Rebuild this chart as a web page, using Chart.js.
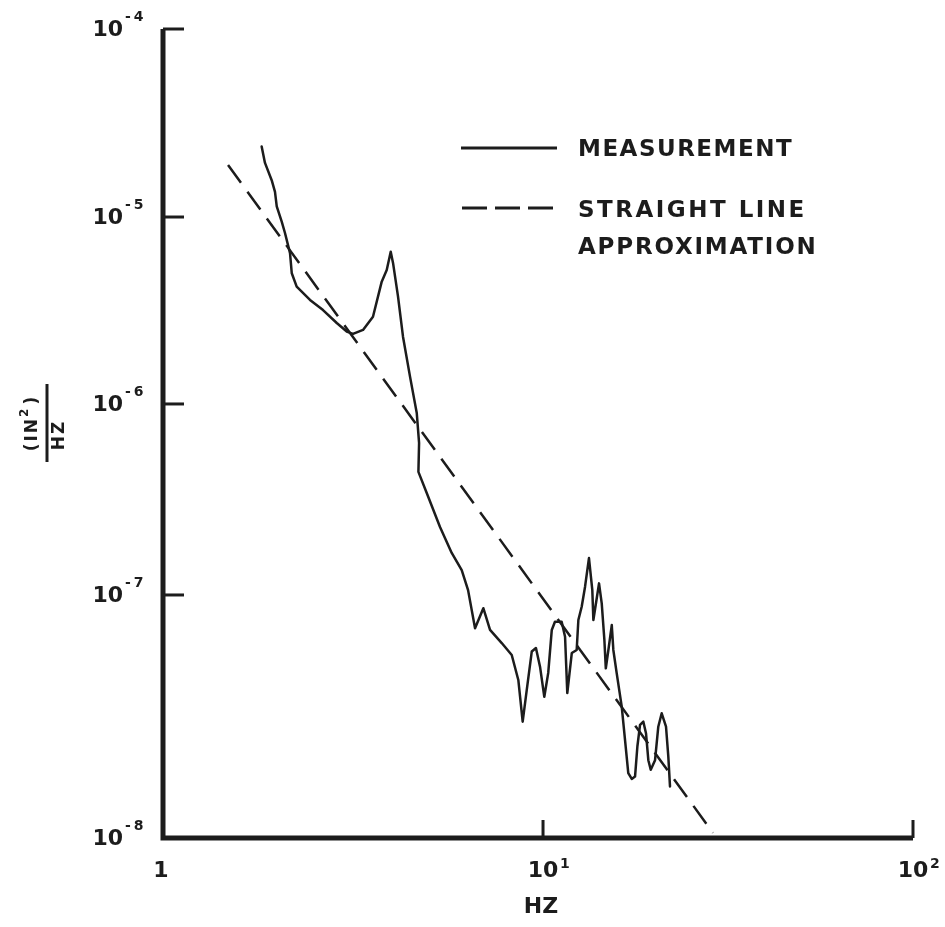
<!DOCTYPE html>
<html>
<head>
<meta charset="utf-8">
<script src="https://cdn.jsdelivr.net/npm/chart.js@4/dist/chart.umd.min.js"></script>
<style>
  html, body { margin: 0; padding: 0; background: #ffffff; }
  canvas { display: block; }
</style>
</head>
<body>
<canvas id="c" width="945" height="927"></canvas>
<script>
// ---------------- data ----------------
const measFreqHz = [
  1.818, 1.855, 1.932, 1.971, 1.992, 2.053, 2.094, 2.159, 2.182, 2.248,
  2.437, 2.637, 2.866, 3.044, 3.162, 3.36, 3.569, 3.763, 3.879, 3.974,
  4.03, 4.154, 4.281, 4.467, 4.653, 4.719, 4.70, 4.943, 5.357, 5.751,
  6.11, 6.35, 6.624, 6.965, 7.254, 7.787, 8.273, 8.61, 8.84, 9.06,
  9.34, 9.58, 9.82, 10.08, 10.33, 10.56, 10.77, 11.23, 11.47, 11.63,
  11.96, 12.33, 12.46, 12.72, 12.99, 13.31, 13.59, 13.68, 13.97, 14.17,
  14.41, 14.65, 14.78, 15.02, 15.34, 15.49, 15.82, 16.32, 16.66, 17.0,
  17.37, 17.73, 17.99, 18.29, 18.67, 18.98, 19.26, 19.55, 20.08, 20.49,
  20.93, 21.5, 21.81, 22.04
];
const measPsd = [
  2.37e-5, 1.94e-5, 1.57e-5, 1.36e-5, 1.14e-5, 9.44e-6, 8.21e-6, 6.41e-6, 5.0e-6, 4.24e-6,
  3.6e-6, 3.18e-6, 2.71e-6, 2.44e-6, 2.37e-6, 2.49e-6, 2.93e-6, 4.51e-6, 5.21e-6, 6.52e-6,
  5.68e-6, 3.75e-6, 2.29e-6, 1.4e-6, 8.97e-7, 6.25e-7, 4.41e-7, 3.42e-7, 2.27e-7, 1.66e-7,
  1.35e-7, 1.06e-7, 7.29e-8, 8.82e-8, 7.18e-8, 6.34e-8, 5.66e-8, 4.47e-8, 3.01e-8, 4.06e-8,
  5.85e-8, 6.05e-8, 5.07e-8, 3.81e-8, 4.78e-8, 7.18e-8, 7.76e-8, 7.76e-8, 6.73e-8, 3.95e-8,
  5.77e-8, 5.94e-8, 7.89e-8, 8.95e-8, 1.105e-7, 1.56e-7, 1.06e-7, 7.89e-8, 9.69e-8, 1.15e-7,
  9.24e-8, 6.53e-8, 4.99e-8, 5.94e-8, 7.52e-8, 5.94e-8, 4.76e-8, 3.47e-8, 2.53e-8, 1.85e-8,
  1.75e-8, 1.79e-8, 2.38e-8, 2.92e-8, 3.01e-8, 2.7e-8, 2.09e-8, 1.91e-8, 2.09e-8, 2.87e-8,
  3.26e-8, 2.87e-8, 2.16e-8, 1.63e-8
];
const approxFreqHz = [1.483, 28.8];
const approxPsd = [1.89e-5, 1.05e-8];

const xTickValues = [1, 10, 100];
const xTickBases = ['1', '10', '10'];
const xTickExponents = ['', '1', '2'];
const yTickValues = [1e-8, 1e-7, 1e-6, 1e-5, 1e-4];
const yTickBases = ['10', '10', '10', '10', '10'];
const yTickExponents = ['-8', '-7', '-6', '-5', '-4'];

const seriesLabels = ['MEASUREMENT', 'STRAIGHT LINE', 'APPROXIMATION'];
const xAxisTitle = 'HZ';
const yAxisTitleNum = '(IN';
const yAxisTitleSup = '2';
const yAxisTitleClose = ')';
const yAxisTitleDen = 'HZ';

// ---------------- scale geometry (hand-drawn decade spacing of the original) ----------------
const xDecadeExps = [0, 1, 2];
const xDecadeFracs = [0, 0.5067, 1];
const yDecadeExps = [-8, -7, -6, -5, -4];
const yDecadeFracs = [0, 0.3004, 0.5365, 0.7676, 1];

function interp(v, xs, ys) {
  let i = 0;
  if (v <= xs[0]) i = 0;
  else if (v >= xs[xs.length - 1]) i = xs.length - 2;
  else { while (i < xs.length - 2 && v > xs[i + 1]) i++; }
  const t = (v - xs[i]) / (xs[i + 1] - xs[i]);
  return ys[i] + t * (ys[i + 1] - ys[i]);
}

function makePiecewiseLog(id, exps, fracs) {
  class S extends Chart.LogarithmicScale {
    getPixelForValue(value) {
      if (value === undefined || value === null || !(value > 0)) return NaN;
      return this.getPixelForDecimal(interp(Math.log10(value), exps, fracs));
    }
    getValueForPixel(pixel) {
      return Math.pow(10, interp(this.getDecimalForPixel(pixel), fracs, exps));
    }
  }
  S.id = id;
  S.defaults = Chart.LogarithmicScale.defaults;
  return S;
}
Chart.register(makePiecewiseLog('plogx', xDecadeExps, xDecadeFracs));
Chart.register(makePiecewiseLog('plogy', yDecadeExps, yDecadeFracs));

const INK = '#1c1c1c';

const decorPlugin = {
  id: 'decor',
  beforeDraw(chart) {
    const ctx = chart.ctx;
    ctx.save();
    ctx.fillStyle = '#ffffff';
    ctx.fillRect(0, 0, chart.width, chart.height);
    ctx.restore();
  },
  afterDraw(chart) {
    const ctx = chart.ctx;
    const xs = chart.scales.x, ys = chart.scales.y;
    const left = xs.getPixelForValue(xTickValues[0]);
    const right = xs.getPixelForValue(xTickValues[xTickValues.length - 1]);
    const bottom = ys.getPixelForValue(yTickValues[0]);
    const top = ys.getPixelForValue(yTickValues[yTickValues.length - 1]);
    ctx.save();
    ctx.strokeStyle = INK;
    ctx.fillStyle = INK;
    // axes
    ctx.lineWidth = 5;
    ctx.lineJoin = 'miter';
    ctx.beginPath();
    ctx.moveTo(left, top);
    ctx.lineTo(left, bottom);
    ctx.lineTo(right, bottom);
    ctx.stroke();
    // y ticks (inward)
    ctx.lineWidth = 3;
    yTickValues.forEach(v => {
      if (v === yTickValues[0]) return;
      const y = ys.getPixelForValue(v);
      ctx.beginPath(); ctx.moveTo(left, y); ctx.lineTo(left + 21, y); ctx.stroke();
    });
    // x ticks (inward)
    xTickValues.forEach(v => {
      if (v === xTickValues[0]) return;
      const x = xs.getPixelForValue(v);
      ctx.beginPath(); ctx.moveTo(x, bottom); ctx.lineTo(x, bottom - 18); ctx.stroke();
    });
    // y tick labels
    ctx.textBaseline = 'middle';
    yTickValues.forEach((v, i) => {
      const y = ys.getPixelForValue(v);
      ctx.font = 'bold 22px "DejaVu Sans"';
      ctx.textAlign = 'right';
      ctx.fillText(yTickBases[i], left - 40, y + 1);
      ctx.font = 'bold 14px "DejaVu Sans"';
      ctx.textAlign = 'left';
      ctx.letterSpacing = '3px';
      ctx.fillText(yTickExponents[i], left - 38, y - 12);
      ctx.letterSpacing = '0px';
    });
    // x tick labels
    xTickValues.forEach((v, i) => {
      const x = xs.getPixelForValue(v);
      ctx.font = 'bold 22px "DejaVu Sans"';
      ctx.textAlign = 'center';
      ctx.fillText(xTickBases[i], x + (i === 0 ? -2 : 0), bottom + 33);
      if (xTickExponents[i]) {
        ctx.font = 'bold 14px "DejaVu Sans"';
        ctx.textAlign = 'left';
        ctx.fillText(xTickExponents[i], x + 17, bottom + 26);
      }
    });
    // x axis title
    ctx.font = 'bold 22px "DejaVu Sans"';
    ctx.textAlign = 'center';
    ctx.fillText(xAxisTitle, (left + xs.getPixelForValue(10)) / 2 + 188, bottom + 69);

    // y axis title as a fraction, rotated
    ctx.save();
    ctx.translate(47, 423);
    ctx.rotate(-Math.PI / 2);
    ctx.lineWidth = 3;
    ctx.beginPath(); ctx.moveTo(-39, 0); ctx.lineTo(39, 0); ctx.stroke();
    ctx.font = 'bold 17px "DejaVu Sans"';
    ctx.textBaseline = 'alphabetic';
    ctx.textAlign = 'left';
    ctx.letterSpacing = '2px';
    const wNum = ctx.measureText(yAxisTitleNum).width;
    ctx.font = 'bold 12px "DejaVu Sans"';
    const wSup = ctx.measureText(yAxisTitleSup).width;
    ctx.font = 'bold 17px "DejaVu Sans"';
    const wClose = ctx.measureText(yAxisTitleClose).width;
    let sx = -(wNum + wSup + wClose + 2) / 2;
    ctx.fillText(yAxisTitleNum, sx, -10);
    ctx.font = 'bold 12px "DejaVu Sans"';
    ctx.fillText(yAxisTitleSup, sx + wNum, -19);
    ctx.font = 'bold 17px "DejaVu Sans"';
    ctx.fillText(yAxisTitleClose, sx + wNum + wSup + 2, -10);
    ctx.textAlign = 'center';
    ctx.fillText(yAxisTitleDen, -12, 17);
    ctx.letterSpacing = '0px';
    ctx.restore();

    // legend
    ctx.lineWidth = 3;
    ctx.setLineDash([]);
    ctx.beginPath(); ctx.moveTo(461, 148); ctx.lineTo(557, 148); ctx.stroke();
    ctx.setLineDash([25, 8]);
    ctx.beginPath(); ctx.moveTo(462, 208); ctx.lineTo(557, 208); ctx.stroke();
    ctx.setLineDash([]);
    ctx.font = 'bold 23px "DejaVu Sans"';
    ctx.textAlign = 'left';
    ctx.textBaseline = 'middle';
    ctx.letterSpacing = '1.5px';
    ctx.fillText(seriesLabels[0], 578, 150);
    ctx.letterSpacing = '2.5px';
    ctx.fillText(seriesLabels[1], 578, 211);
    ctx.letterSpacing = '1.8px';
    ctx.fillText(seriesLabels[2], 578, 248);
    ctx.letterSpacing = '0px';
    ctx.restore();
  }
};

const measData = measFreqHz.map((f, i) => ({ x: f, y: measPsd[i] }));
const approxData = approxFreqHz.map((f, i) => ({ x: f, y: approxPsd[i] }));

new Chart(document.getElementById('c'), {
  type: 'line',
  data: {
    datasets: [
      {
        label: seriesLabels[0],
        data: measData,
        borderColor: INK,
        borderWidth: 2.5,
        pointRadius: 0,
        tension: 0,
        fill: false,
        borderJoinStyle: 'round',
        borderCapStyle: 'round'
      },
      {
        label: seriesLabels[1] + ' ' + seriesLabels[2],
        data: approxData,
        borderColor: INK,
        borderWidth: 2.5,
        borderDash: [22, 11],
        pointRadius: 0,
        tension: 0,
        fill: false
      }
    ]
  },
  options: {
    responsive: false,
    animation: false,
    devicePixelRatio: 1,
    layout: { padding: { left: 163, right: 32, top: 29, bottom: 89 } },
    plugins: { legend: { display: false }, tooltip: { enabled: false } },
    scales: {
      x: { type: 'plogx', min: 1, max: 100, display: false },
      y: { type: 'plogy', min: 1e-8, max: 1e-4, display: false }
    }
  },
  plugins: [decorPlugin]
});
</script>
</body>
</html>
